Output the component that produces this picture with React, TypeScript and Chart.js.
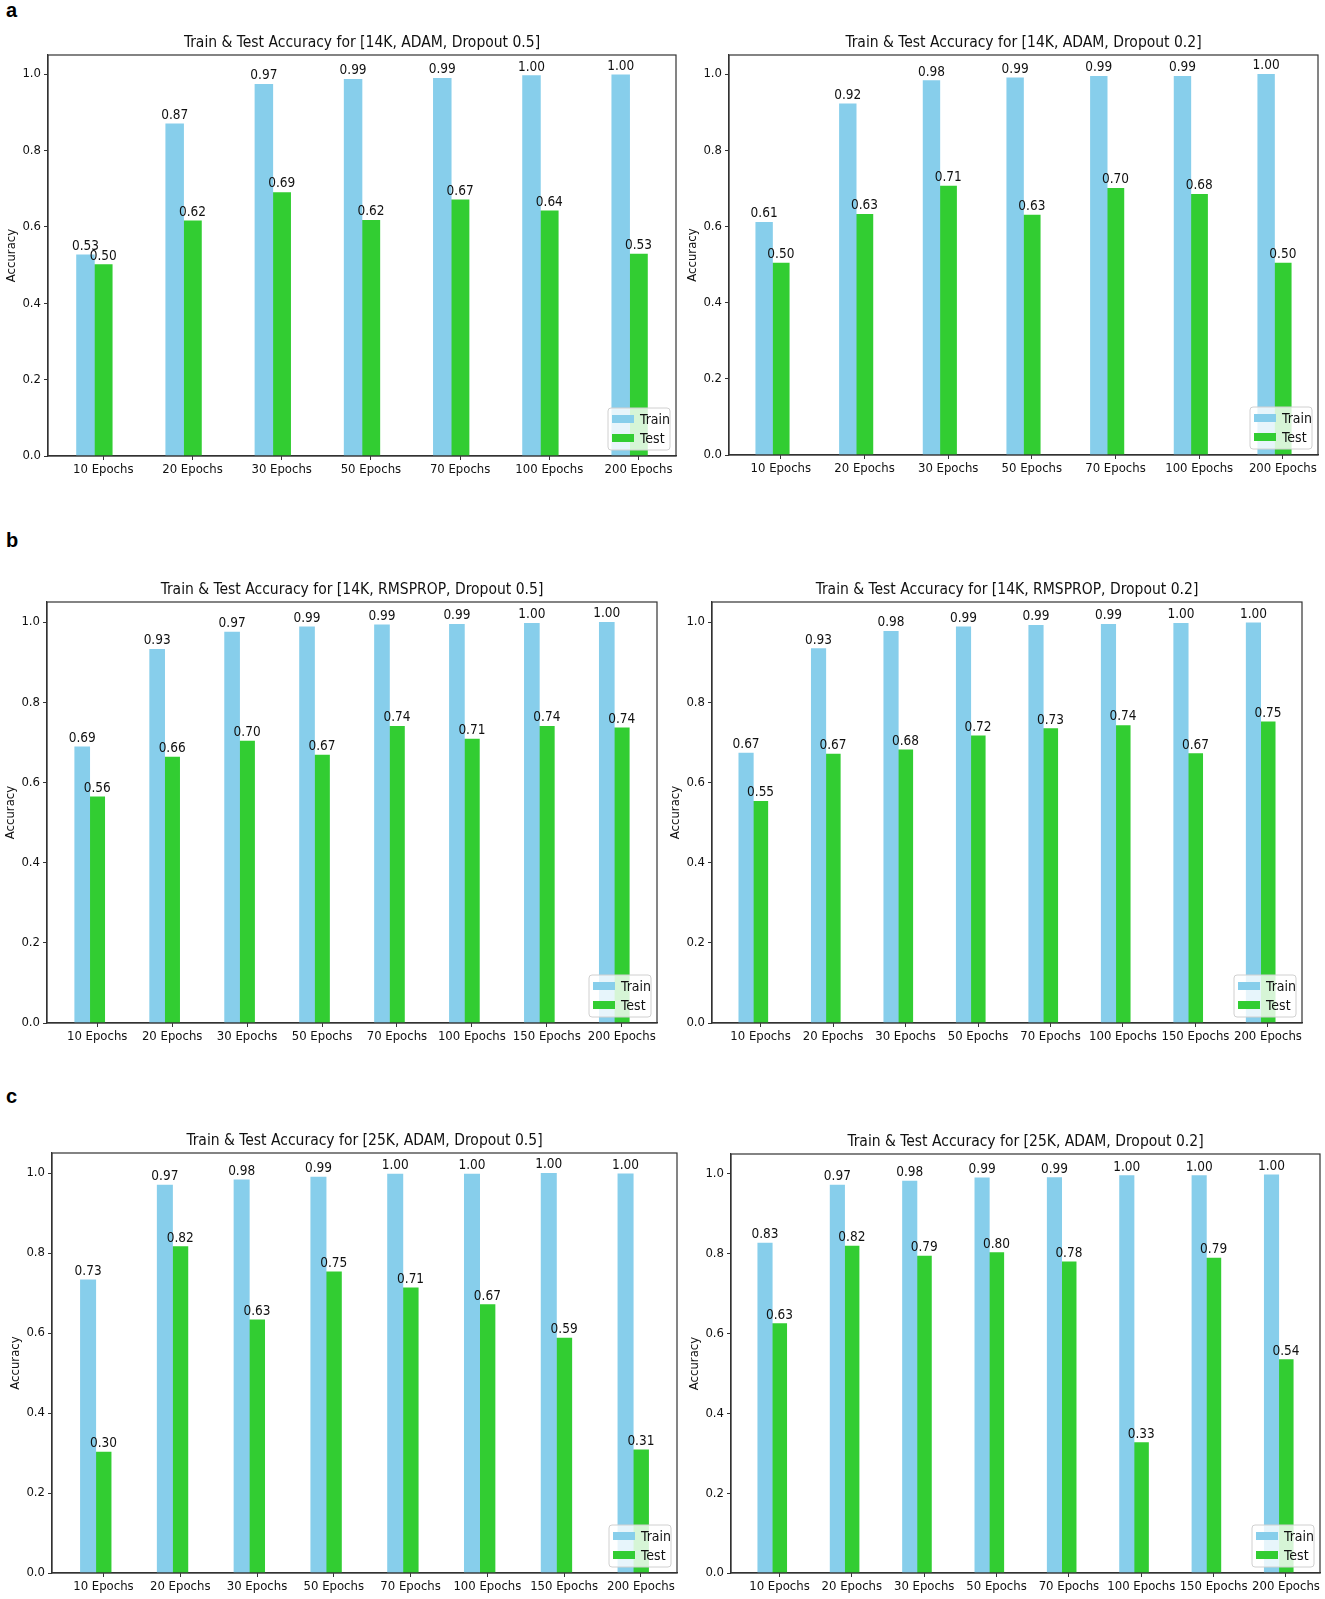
import { useEffect, useRef } from "react";
import { Chart, registerables } from "chart.js";

Chart.register(...registerables);

// categories
const epochs7 = ["10 Epochs", "20 Epochs", "30 Epochs", "50 Epochs", "70 Epochs", "100 Epochs", "200 Epochs"];
const epochs8 = ["10 Epochs", "20 Epochs", "30 Epochs", "50 Epochs", "70 Epochs", "100 Epochs", "150 Epochs", "200 Epochs"];

// a: 14K, ADAM
const trainAdam05 = [0.527, 0.870, 0.973, 0.986, 0.989, 0.996, 0.998];
const testAdam05 = [0.501, 0.616, 0.690, 0.617, 0.671, 0.642, 0.529];
const trainAdam02 = [0.611, 0.922, 0.983, 0.990, 0.994, 0.994, 0.999];
const testAdam02 = [0.504, 0.632, 0.706, 0.630, 0.700, 0.684, 0.504];

// b: 14K, RMSPROP
const trainRms05 = [0.689, 0.932, 0.975, 0.988, 0.993, 0.994, 0.997, 0.999];
const testRms05 = [0.564, 0.663, 0.703, 0.668, 0.740, 0.708, 0.740, 0.736];
const trainRms02 = [0.673, 0.934, 0.977, 0.988, 0.992, 0.994, 0.997, 0.998];
const testRms02 = [0.553, 0.671, 0.681, 0.716, 0.734, 0.742, 0.672, 0.751];

// c: 25K, ADAM
const trainBig05 = [0.733, 0.970, 0.983, 0.990, 0.997, 0.997, 0.999, 0.998];
const testBig05 = [0.302, 0.816, 0.633, 0.753, 0.713, 0.671, 0.587, 0.308];
const trainBig02 = [0.827, 0.972, 0.982, 0.990, 0.991, 0.996, 0.996, 0.998];
const testBig02 = [0.625, 0.819, 0.794, 0.803, 0.780, 0.327, 0.789, 0.535];

const yTicks = [0, 0.2, 0.4, 0.6, 0.8, 1.0];

const TRAIN_COLOR = "#87ceeb";
const TEST_COLOR = "#32cd32";
const AXIS_COLOR = "#333";
const FONT = "'DejaVu Sans Condensed', 'Liberation Sans Narrow', 'DejaVu Sans', sans-serif";

interface Box {
  left: number;
  top: number;
  right: number;
  bottom: number;
}

interface BarPanelProps {
  title: string;
  categories: string[];
  train: number[];
  test: number[];
  plot: Box;
}

const PAD_LEFT = 52;
const PAD_TOP = 30;
const PAD_RIGHT = 6;
const PAD_BOTTOM = 28;
const Y_AXIS_W = 45;

const BarPanel: React.FC<BarPanelProps> = ({ title, categories, train, test, plot }) => {
  const canvasRef = useRef<HTMLCanvasElement>(null);
  const chartRef = useRef<Chart | null>(null);

  const width = plot.right - plot.left + PAD_LEFT + PAD_RIGHT;
  const height = plot.bottom - plot.top + PAD_TOP + PAD_BOTTOM;

  useEffect(() => {
    if (!canvasRef.current) return;
    const ctx = canvasRef.current.getContext("2d");
    if (!ctx) return;
    if (chartRef.current) chartRef.current.destroy();

    const last = categories.length - 1;
    const margin = (last + 0.4) * 0.05;

    const decorations = {
      id: "decorations",
      afterDatasetsDraw(chart: Chart) {
        const c = chart.ctx;
        const area = chart.chartArea;
        c.save();
        // value labels
        c.fillStyle = "#111";
        c.font = `13.5px ${FONT}`;
        c.textAlign = "center";
        c.textBaseline = "alphabetic";
        chart.data.datasets.forEach((ds, di) => {
          const meta = chart.getDatasetMeta(di);
          meta.data.forEach((el: any, i) => {
            const v = (ds.data[i] as any).y as number;
            c.fillText(v.toFixed(2), el.x, el.y - 5);
          });
        });
        // frame
        c.strokeStyle = AXIS_COLOR;
        c.lineWidth = 1.2;
        c.strokeRect(area.left, area.top, area.right - area.left, area.bottom - area.top);
        // legend
        const bw = 62;
        const bh = 42;
        const bx = area.right - 6 - bw;
        const by = area.bottom - 6 - bh;
        c.beginPath();
        c.roundRect(bx, by, bw, bh, 3);
        c.fillStyle = "rgba(255,255,255,0.8)";
        c.fill();
        c.strokeStyle = "#d0d0d0";
        c.lineWidth = 1;
        c.stroke();
        const entries = [
          { label: "Train", color: TRAIN_COLOR },
          { label: "Test", color: TEST_COLOR },
        ];
        c.font = `14px ${FONT}`;
        c.textAlign = "left";
        c.textBaseline = "middle";
        entries.forEach((e, k) => {
          const cy = by + 11 + k * 19;
          c.fillStyle = e.color;
          c.fillRect(bx + 4, cy - 4, 22, 8);
          c.fillStyle = "#111";
          c.fillText(e.label, bx + 32, cy + 1);
        });
        // title
        c.fillStyle = "#111";
        c.font = `15.5px ${FONT}`;
        c.textAlign = "center";
        c.textBaseline = "alphabetic";
        c.fillText(title, (area.left + area.right) / 2, area.top - 8);
        // y axis title
        c.translate(area.left - 36, (area.top + area.bottom) / 2);
        c.rotate(-Math.PI / 2);
        c.font = `13px ${FONT}`;
        c.textBaseline = "middle";
        c.fillText("Accuracy", 0, 0);
        c.restore();
      },
    };

    chartRef.current = new Chart(ctx, {
      type: "bar",
      data: {
        datasets: [
          {
            label: "Train",
            data: train.map((v, i) => ({ x: i - 0.2, y: v })),
            backgroundColor: TRAIN_COLOR,
            grouped: false,
            barPercentage: 1,
            categoryPercentage: 1,
          },
          {
            label: "Test",
            data: test.map((v, i) => ({ x: i, y: v })),
            backgroundColor: TEST_COLOR,
            grouped: false,
            barPercentage: 1,
            categoryPercentage: 1,
          },
        ],
      },
      options: {
        responsive: false,
        animation: false,
        devicePixelRatio: 1,
        layout: {
          padding: { left: PAD_LEFT - Y_AXIS_W, top: PAD_TOP, right: PAD_RIGHT, bottom: 0 },
        },
        plugins: {
          legend: { display: false },
          tooltip: { enabled: false },
          title: { display: false },
        },
        scales: {
          x: {
            type: "linear",
            offset: false,
            min: -0.1 - 0.2 - margin,
            max: last + 0.1 + margin,
            afterBuildTicks: (scale: any) => {
              scale.ticks = categories.map((_, i) => ({ value: i }));
            },
            afterFit: (scale: any) => {
              scale.height = PAD_BOTTOM;
            },
            ticks: {
              autoSkip: false,
              maxRotation: 0,
              padding: 2,
              color: "#111",
              font: { family: FONT, size: 13 },
              callback: (v: any) => categories[Math.round(Number(v))],
            },
            grid: {
              display: true,
              offset: false,
              drawOnChartArea: false,
              drawTicks: true,
              tickLength: 4,
              color: AXIS_COLOR,
            },
            border: { display: true, color: AXIS_COLOR, width: 1.2 },
          },
          y: {
            min: 0,
            max: 1.05,
            afterBuildTicks: (scale: any) => {
              scale.ticks = yTicks.map((v) => ({ value: v }));
            },
            afterFit: (scale: any) => {
              scale.width = Y_AXIS_W;
            },
            ticks: {
              padding: 3,
              color: "#111",
              font: { family: FONT, size: 13 },
              callback: (v: any) => Number(v).toFixed(1),
            },
            grid: {
              display: true,
              drawOnChartArea: false,
              drawTicks: true,
              tickLength: 4,
              color: AXIS_COLOR,
            },
            border: { display: true, color: AXIS_COLOR, width: 1.2 },
          },
        },
      },
      plugins: [decorations],
    } as any);

    return () => {
      if (chartRef.current) {
        chartRef.current.destroy();
        chartRef.current = null;
      }
    };
  }, [title, categories, train, test]);

  return (
    <div
      style={{
        position: "absolute",
        left: plot.left - PAD_LEFT,
        top: plot.top - PAD_TOP,
        width,
        height,
      }}
    >
      <canvas ref={canvasRef} width={width} height={height} style={{ width, height }}></canvas>
    </div>
  );
};

const panelLabel = (text: string, top: number) => (
  <div
    style={{
      position: "absolute",
      left: 6,
      top,
      fontFamily: "'Liberation Sans', Arial, sans-serif",
      fontWeight: "bold",
      fontSize: 20,
      lineHeight: "20px",
    }}
  >
    {text}
  </div>
);

export default function App() {
  return (
    <div
      style={{
        position: "absolute",
        left: 0,
        top: 0,
        width: 1325,
        height: 1599,
        background: "#fff",
        overflow: "hidden",
      }}
    >
      {panelLabel("a", 0)}
      {panelLabel("b", 530)}
      {panelLabel("c", 1086)}
      <BarPanel
        title="Train & Test Accuracy for [14K, ADAM, Dropout 0.5]"
        categories={epochs7}
        train={trainAdam05}
        test={testAdam05}
        plot={{ left: 48, top: 55, right: 676, bottom: 456 }}
      />
      <BarPanel
        title="Train & Test Accuracy for [14K, ADAM, Dropout 0.2]"
        categories={epochs7}
        train={trainAdam02}
        test={testAdam02}
        plot={{ left: 729, top: 55, right: 1318, bottom: 455 }}
      />
      <BarPanel
        title="Train & Test Accuracy for [14K, RMSPROP, Dropout 0.5]"
        categories={epochs8}
        train={trainRms05}
        test={testRms05}
        plot={{ left: 47, top: 602, right: 657, bottom: 1023 }}
      />
      <BarPanel
        title="Train & Test Accuracy for [14K, RMSPROP, Dropout 0.2]"
        categories={epochs8}
        train={trainRms02}
        test={testRms02}
        plot={{ left: 712, top: 602, right: 1302, bottom: 1023 }}
      />
      <BarPanel
        title="Train & Test Accuracy for [25K, ADAM, Dropout 0.5]"
        categories={epochs8}
        train={trainBig05}
        test={testBig05}
        plot={{ left: 52, top: 1153, right: 677, bottom: 1573 }}
      />
      <BarPanel
        title="Train & Test Accuracy for [25K, ADAM, Dropout 0.2]"
        categories={epochs8}
        train={trainBig02}
        test={testBig02}
        plot={{ left: 731, top: 1154, right: 1320, bottom: 1573 }}
      />
    </div>
  );
}
